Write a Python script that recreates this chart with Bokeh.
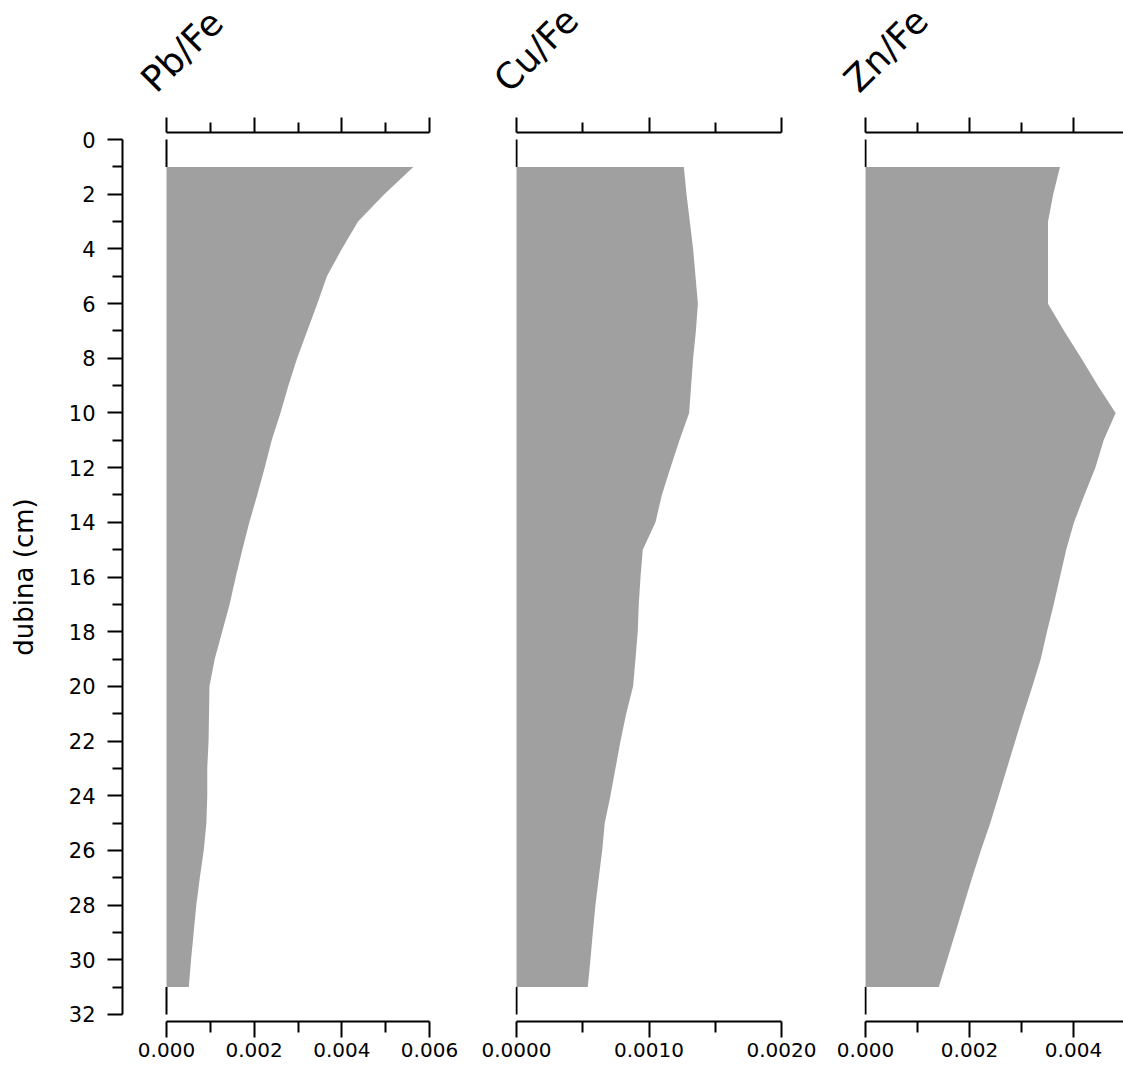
import numpy as np
from bokeh.plotting import figure
from bokeh.layouts import row, column
from bokeh.models import Range1d, LinearAxis, FixedTicker, CustomJSTickFormatter
from bokeh.core.properties import value
from bokeh.embed import file_html
from bokeh.resources import INLINE

# ---------------- data ----------------
DEPTH = [1, 2, 3, 4, 5, 6, 7, 8, 9, 10, 11, 12, 13, 14, 15, 16,
         17, 18, 19, 20, 21, 22, 23, 24, 25, 26, 27, 28, 29, 30, 31]

PB_FE = [0.00563, 0.00497, 0.00437, 0.00400, 0.00366, 0.00344, 0.00321, 0.00298,
         0.00278, 0.00260, 0.00240, 0.00224, 0.00207, 0.00189, 0.00173, 0.00158,
         0.00144, 0.00127, 0.00110, 0.00098, 0.00097, 0.00096, 0.00093, 0.00093,
         0.00091, 0.00085, 0.00076, 0.00068, 0.00062, 0.00056, 0.00051]

CU_FE = [0.001263, 0.001283, 0.001308, 0.001333, 0.001351, 0.001369, 0.001354, 0.001333,
         0.001318, 0.001303, 0.001230, 0.001162, 0.001097, 0.001049, 0.000953, 0.000936,
         0.000923, 0.000915, 0.000898, 0.000880, 0.000828, 0.000785, 0.000747, 0.000709,
         0.000666, 0.000647, 0.000621, 0.000596, 0.000576, 0.000558, 0.000538]

ZN_FE = [0.00374, 0.00361, 0.00351, 0.00351, 0.00351, 0.00351, 0.00382, 0.00415,
         0.00447, 0.00481, 0.00458, 0.00442, 0.00421, 0.00401, 0.00386, 0.00374,
         0.00362, 0.00349, 0.00337, 0.00321, 0.00304, 0.00288, 0.00272, 0.00256,
         0.00240, 0.00222, 0.00205, 0.00189, 0.00173, 0.00157, 0.00141]

DEPTH_TICKS = [0, 2, 4, 6, 8, 10, 12, 14, 16, 18, 20, 22, 24, 26, 28, 30, 32]
DEPTH_MINOR = [1, 3, 5, 7, 9, 11, 13, 15, 17, 19, 21, 23, 25, 27, 29, 31]
Y_LABEL = "dubina (cm)"

PB_TICKS = [0.0, 0.002, 0.004, 0.006]
PB_MINOR = [0.001, 0.003, 0.005]
PB_LABELS = ["0.000", "0.002", "0.004", "0.006"]

CU_TICKS = [0.0, 0.001, 0.002]
CU_MINOR = [0.0005, 0.0015]
CU_LABELS = ["0.0000", "0.0010", "0.0020"]

ZN_TICKS = [0.0, 0.002, 0.004]
ZN_MINOR = [0.001, 0.003, 0.005]
ZN_LABELS = ["0.000", "0.002", "0.004"]

TITLES = ["Pb/Fe", "Cu/Fe", "Zn/Fe"]

# ---------------- style / layout ----------------
FONT = "DejaVu Sans"
FILL = "#a0a0a0"
TOTAL_H = 1066
TH = 110            # height of the title strip
H = TOTAL_H - TH    # height of the panels
TOP_B = 22
BOT_B = 45
YPAD = 0.26
LW = 2
TITLE_BASE = 85     # title baseline, px from top of page
TITLE_SIZE = "36px"


def style_x_axis(ax, bottom):
    ax.axis_line_width = LW
    ax.major_tick_line_width = LW
    ax.minor_tick_line_width = LW
    ax.axis_line_color = "black"
    ax.major_tick_line_color = "black"
    ax.minor_tick_line_color = "black"
    ax.major_tick_in = 0
    ax.minor_tick_in = 0
    if bottom:
        ax.major_tick_out = 16
        ax.minor_tick_out = 11
        ax.major_label_standoff = 5
        ax.major_label_text_font = FONT
        ax.major_label_text_font_size = "20px"
        ax.major_label_text_color = "black"
    else:
        ax.major_tick_out = 15
        ax.minor_tick_out = 10
        ax.major_label_standoff = 0
        ax.major_label_text_font_size = "0px"


def make_panel(vals, ticks, minor, labels, x_start, x_end, bl, fw, br, with_y):
    p = figure(width=bl + fw + br, height=H,
               x_range=Range1d(x_start, x_end),
               y_range=Range1d(DEPTH_TICKS[-1] + YPAD, DEPTH_TICKS[0] - YPAD),
               output_backend="svg", toolbar_location=None,
               x_axis_location=None, y_axis_location=None,
               min_border_left=bl, min_border_right=br,
               min_border_top=TOP_B, min_border_bottom=BOT_B)
    p.grid.visible = False
    p.outline_line_color = None
    p.background_fill_color = "white"
    p.border_fill_color = "white"

    bound = (0, max(ticks + minor))
    top = LinearAxis(ticker=FixedTicker(ticks=ticks, minor_ticks=minor), bounds=bound,
                     formatter=CustomJSTickFormatter(code="return ''"))
    style_x_axis(top, False)
    p.add_layout(top, "above")

    bot = LinearAxis(ticker=FixedTicker(ticks=ticks, minor_ticks=minor), bounds=bound,
                     major_label_overrides={t: l for t, l in zip(ticks, labels)})
    style_x_axis(bot, True)
    p.add_layout(bot, "below")

    if with_y:
        ya = LinearAxis(ticker=FixedTicker(ticks=DEPTH_TICKS, minor_ticks=DEPTH_MINOR),
                        bounds=(DEPTH_TICKS[0], DEPTH_TICKS[-1]),
                        axis_label=Y_LABEL)
        ya.axis_line_width = LW
        ya.major_tick_line_width = LW
        ya.minor_tick_line_width = LW
        ya.major_tick_in = 0
        ya.minor_tick_in = 0
        ya.major_tick_out = 15
        ya.minor_tick_out = 10
        ya.major_label_standoff = 12
        ya.major_label_text_font = FONT
        ya.major_label_text_font_size = "21px"
        ya.major_label_text_color = "black"
        ya.axis_label_text_font = FONT
        ya.axis_label_text_font_size = "26px"
        ya.axis_label_text_font_style = "normal"
        ya.axis_label_text_color = "black"
        ya.axis_label_standoff = 27
        p.add_layout(ya, "left")

    # panel baseline (x = 0) where the profile leaves it uncovered
    p.segment(x0=[0, 0], y0=[DEPTH_TICKS[0], DEPTH[-1]],
              x1=[0, 0], y1=[DEPTH[0], DEPTH_TICKS[-1]],
              line_color="black", line_width=LW)
    p.harea(y=DEPTH, x1=np.zeros(len(DEPTH)), x2=vals, fill_color=FILL, fill_alpha=1.0)
    return p


def make_title(text, x_start, x_end, bl, fw, br, dx):
    u = (x_end - x_start) / fw
    t = figure(width=bl + fw + br, height=TH,
               x_range=Range1d(x_start - bl * u, x_end + br * u),
               y_range=Range1d(0, TH),
               output_backend="svg", toolbar_location=None,
               x_axis_location=None, y_axis_location=None,
               min_border_left=0, min_border_right=0, min_border_top=0, min_border_bottom=0)
    t.grid.visible = False
    t.outline_line_color = None
    t.background_fill_color = "white"
    t.border_fill_color = "white"
    t.text(x=[0], y=[TH - TITLE_BASE], text=[text], x_offset=dx,
           angle=45, angle_units="deg", text_font=value(FONT), text_font_size=TITLE_SIZE,
           text_align="left", text_baseline="alphabetic", text_color="black")
    return t


# panel geometry: (x_start, x_end, border_left, frame_width, border_right)
# panels 2 and 3 start one pixel left of zero so that their baseline is not clipped
G1 = (-44.0 / 263.0 * PB_TICKS[-1], PB_TICKS[-1], 122, 307, 43)
G2 = (-1.0 / 265.0 * CU_TICKS[-1], CU_TICKS[-1], 43, 266, 42)
G3 = (-1.0 / 52.0 * ZN_MINOR[0], 258.0 / 260.0 * ZN_MINOR[-1], 41, 259, 0)

p1 = make_panel(PB_FE, PB_TICKS, PB_MINOR, PB_LABELS, *G1, True)
p2 = make_panel(CU_FE, CU_TICKS, CU_MINOR, CU_LABELS, *G2, False)
p3 = make_panel(ZN_FE, ZN_TICKS, ZN_MINOR, ZN_LABELS, *G3, False)

t1 = make_title(TITLES[0], *G1, -19)
t2 = make_title(TITLES[1], *G2, -16)
t3 = make_title(TITLES[2], *G3, -15)

layout = column(row(t1, t2, t3, spacing=0), row(p1, p2, p3, spacing=0), spacing=0)
open("out.html", "w").write(file_html(layout, INLINE))
